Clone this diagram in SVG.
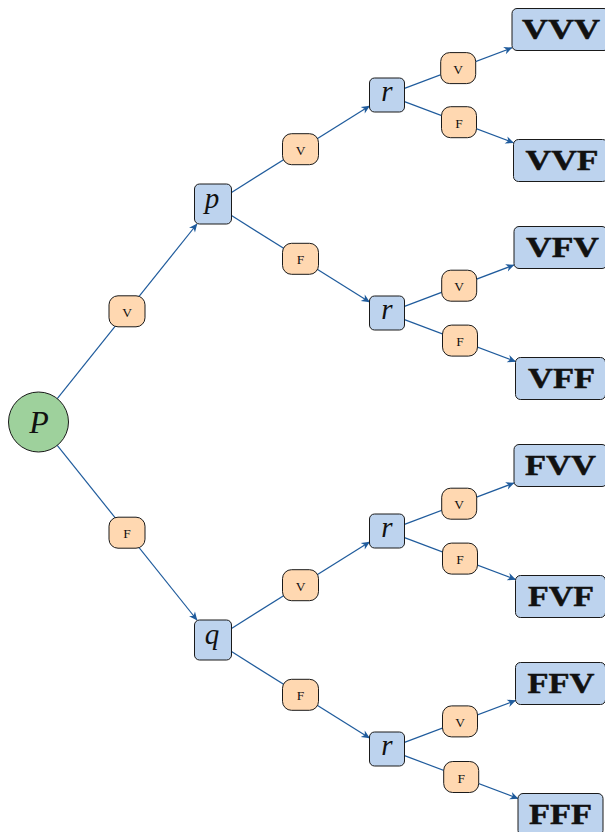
<svg xmlns="http://www.w3.org/2000/svg" width="605" height="832" viewBox="0 0 605 832">
<defs>
<style>
.edge{stroke:#1f5b9c;stroke-width:1.2;fill:none;}
.arr{marker-end:url(#ah);}
.node{fill:#bdd3ee;stroke:#1a1a1a;stroke-width:1;}
.lbl{fill:#ffd8b1;stroke:#1a1a1a;stroke-width:1;}
.ltxt{font-family:"Liberation Serif",serif;font-size:13.5px;text-anchor:middle;fill:#111;}
.mtxt{font-family:"Liberation Serif",serif;font-style:italic;font-size:29px;text-anchor:middle;fill:#111;}
.leaf{font-family:"Liberation Serif",serif;font-weight:bold;font-size:29px;text-anchor:middle;fill:#111;stroke:#111;stroke-width:0.5;}
</style>
<marker id="ah" markerUnits="userSpaceOnUse" markerWidth="12" markerHeight="10" viewBox="-10 -5 12 10" refX="0" refY="0" orient="auto">
<path d="M0.5,0 L-8,-3.8 L-5.5,0 L-8,3.8 Z" fill="#1f5b9c"/>
</marker>
</defs>
<rect width="605" height="832" fill="#ffffff"/>

<g id="connectors">
<line class="edge arr" x1="57.25" y1="398.6" x2="197" y2="224"/>
<line class="edge arr" x1="57.25" y1="445.4" x2="197" y2="620"/>
<line class="edge arr" x1="231.5" y1="192.4" x2="369.5" y2="106"/>
<line class="edge arr" x1="231.5" y1="215.6" x2="369.5" y2="302"/>
<line class="edge arr" x1="231.5" y1="628.4" x2="369.5" y2="542"/>
<line class="edge arr" x1="231.5" y1="651.6" x2="369.5" y2="738"/>
<line class="edge arr" x1="404.5" y1="88.4" x2="512" y2="47.8"/>
<line class="edge arr" x1="404.5" y1="101.6" x2="513.5" y2="142.8"/>
<line class="edge arr" x1="404.5" y1="306.4" x2="514" y2="265"/>
<line class="edge arr" x1="404.5" y1="319.6" x2="515.5" y2="361.5"/>
<line class="edge arr" x1="404.5" y1="524.4" x2="514" y2="483"/>
<line class="edge arr" x1="404.5" y1="537.6" x2="515.5" y2="579.5"/>
<line class="edge arr" x1="404.5" y1="742.4" x2="515.5" y2="700.5"/>
<line class="edge arr" x1="404.5" y1="755.6" x2="518" y2="798.5"/>
</g>

<g id="edge-labels">
<g id="l-P-p"><rect class="lbl" x="109" y="295.8" width="36" height="31" rx="9"/><text class="ltxt" x="127" y="316.8">V</text></g>
<g id="l-P-q"><rect class="lbl" x="109" y="517.2" width="36" height="31" rx="9"/><text class="ltxt" x="127" y="538.2">F</text></g>
<g id="l-p-r1"><rect class="lbl" x="282.5" y="133.7" width="36" height="31" rx="9"/><text class="ltxt" x="300.5" y="154.7">V</text></g>
<g id="l-p-r2"><rect class="lbl" x="282.5" y="243.3" width="36" height="31" rx="9"/><text class="ltxt" x="300.5" y="264.3">F</text></g>
<g id="l-q-r3"><rect class="lbl" x="282.5" y="569.7" width="36" height="31" rx="9"/><text class="ltxt" x="300.5" y="590.7">V</text></g>
<g id="l-q-r4"><rect class="lbl" x="282.5" y="679.3" width="36" height="31" rx="9"/><text class="ltxt" x="300.5" y="700.3">F</text></g>
<g id="l-r1-VVV"><rect class="lbl" x="440.7" y="52.6" width="35" height="31" rx="9"/><text class="ltxt" x="458.2" y="73.6">V</text></g>
<g id="l-r1-VVF"><rect class="lbl" x="441.5" y="106.7" width="35" height="31" rx="9"/><text class="ltxt" x="459" y="127.7">F</text></g>
<g id="l-r2-VFV"><rect class="lbl" x="441.7" y="270.2" width="35" height="31" rx="9"/><text class="ltxt" x="459.2" y="291.2">V</text></g>
<g id="l-r2-VFF"><rect class="lbl" x="442.5" y="325.1" width="35" height="31" rx="9"/><text class="ltxt" x="460" y="346.1">F</text></g>
<g id="l-r3-FVV"><rect class="lbl" x="441.7" y="488.2" width="35" height="31" rx="9"/><text class="ltxt" x="459.2" y="509.2">V</text></g>
<g id="l-r3-FVF"><rect class="lbl" x="442.5" y="543.1" width="35" height="31" rx="9"/><text class="ltxt" x="460" y="564.1">F</text></g>
<g id="l-r4-FFV"><rect class="lbl" x="442.5" y="705.9" width="35" height="31" rx="9"/><text class="ltxt" x="460" y="726.9">V</text></g>
<g id="l-r4-FFF"><rect class="lbl" x="443.7" y="761.5" width="35" height="31" rx="9"/><text class="ltxt" x="461.2" y="782.5">F</text></g>
</g>

<g id="node-P"><circle cx="38.5" cy="422" r="30" fill="#9ed19c" stroke="#1a1a1a" stroke-width="1"/><text class="mtxt" x="39" y="433.3" style="font-size:32px">P</text></g>
<g id="node-p"><rect class="node" x="194.5" y="184" width="37" height="40" rx="5"/><text class="mtxt" x="212" y="207.5">p</text></g>
<g id="node-q"><rect class="node" x="194.5" y="620" width="37" height="40" rx="5"/><text class="mtxt" x="212" y="643.5">q</text></g>
<g id="node-r1"><rect class="node" x="369.5" y="78" width="35" height="34" rx="5"/><text class="mtxt" x="387" y="100.5">r</text></g>
<g id="node-r2"><rect class="node" x="369.5" y="296" width="35" height="34" rx="5"/><text class="mtxt" x="387" y="318.5">r</text></g>
<g id="node-r3"><rect class="node" x="369.5" y="514" width="35" height="34" rx="5"/><text class="mtxt" x="387" y="536.5">r</text></g>
<g id="node-r4"><rect class="node" x="369.5" y="732" width="35" height="34" rx="5"/><text class="mtxt" x="387" y="754.5">r</text></g>

<g id="leaf-VVV"><rect class="node" x="512" y="8.5" width="97" height="42" rx="5"/><text class="leaf" x="561" y="38.8" textLength="78" lengthAdjust="spacingAndGlyphs">VVV</text></g>
<g id="leaf-VVF"><rect class="node" x="513.5" y="139.5" width="94" height="42" rx="5"/><text class="leaf" x="562" y="169.8" textLength="73" lengthAdjust="spacingAndGlyphs">VVF</text></g>
<g id="leaf-VFV"><rect class="node" x="514" y="226.5" width="93" height="42" rx="5"/><text class="leaf" x="562.5" y="256.8" textLength="73" lengthAdjust="spacingAndGlyphs">VFV</text></g>
<g id="leaf-VFF"><rect class="node" x="515.5" y="357.5" width="90" height="42" rx="5"/><text class="leaf" x="561.5" y="387.8" textLength="67" lengthAdjust="spacingAndGlyphs">VFF</text></g>
<g id="leaf-FVV"><rect class="node" x="514" y="444.5" width="93" height="42" rx="5"/><text class="leaf" x="560.5" y="474.8" textLength="71" lengthAdjust="spacingAndGlyphs">FVV</text></g>
<g id="leaf-FVF"><rect class="node" x="515.5" y="575.5" width="90" height="42" rx="5"/><text class="leaf" x="561" y="605.8" textLength="66" lengthAdjust="spacingAndGlyphs">FVF</text></g>
<g id="leaf-FFV"><rect class="node" x="515.5" y="662.5" width="90" height="42" rx="5"/><text class="leaf" x="561" y="692.8" textLength="67" lengthAdjust="spacingAndGlyphs">FFV</text></g>
<g id="leaf-FFF"><rect class="node" x="518" y="793.5" width="85" height="42" rx="5"/><text class="leaf" x="560.5" y="823.8" textLength="63" lengthAdjust="spacingAndGlyphs">FFF</text></g>
</svg>
